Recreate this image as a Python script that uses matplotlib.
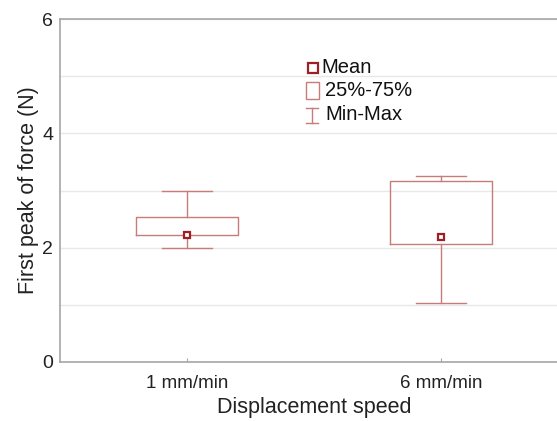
import matplotlib
matplotlib.use("Agg")
import matplotlib.pyplot as plt
from matplotlib.patches import Rectangle
from matplotlib.lines import Line2D

plt.rcParams['font.family'] = ['Liberation Sans', 'DejaVu Sans']

categories = ["1 mm/min", "6 mm/min"]
means = [2.23, 2.18]
q1 = [2.22, 2.06]
q3 = [2.53, 3.16]
mins = [2.00, 1.03]
maxs = [3.00, 3.26]
yticks = [0, 2, 4, 6]

box_col = "#c87b7b"
mean_col = "#9e1f24"
spine_col = "#a6a6a6"

fig = plt.figure(figsize=(5.57, 4.21), dpi=100)
ax = fig.add_axes([60/557, 1 - 362/421, 508/557, 343/421])

stats = []
for i, c in enumerate(categories):
    stats.append(dict(label=c, mean=means[i], med=means[i], q1=q1[i], q3=q3[i],
                      whislo=mins[i], whishi=maxs[i], fliers=[]))
pos = list(range(1, len(categories) + 1))
ax.bxp(stats, positions=pos, widths=0.4, showmeans=False, showfliers=False,
       boxprops=dict(color=box_col, lw=1.0),
       whiskerprops=dict(color=box_col, lw=1.0),
       capprops=dict(color=box_col, lw=1.0),
       medianprops=dict(visible=False), capwidths=0.2)
ax.plot(pos, means, ls='none', marker='s', ms=5, mfc='white', mec=mean_col, mew=1.6, zorder=5)

ax.set_xlim(0.5, 2.5)
ax.set_ylim(0, 6)
ax.set_yticks(yticks)
ax.set_yticks([1, 3, 5], minor=True)
ax.set_xticks(pos)
ax.set_xticklabels(categories)
ax.grid(axis='y', which='both', color='#e8e8e8', lw=1.0)
ax.set_axisbelow(True)
ax.tick_params(axis='y', which='both', length=0, labelsize=14, pad=5, colors='#222222')
ax.tick_params(axis='x', length=3, direction='in', color=spine_col, labelsize=13.5, pad=9, labelcolor='#222222')
for s in ['left', 'top', 'bottom']:
    ax.spines[s].set_color(spine_col)
    ax.spines[s].set_linewidth(1.2)
ax.spines['right'].set_visible(False)
ax.set_ylabel("First peak of force (N)", fontsize=15.5, color='#222222', labelpad=2)
ax.set_xlabel("Displacement speed", fontsize=15.5, color='#222222', labelpad=4)

# legend drawn manually (axes fraction coordinates)
def fx(px):
    return (px - 60) / 508
def fy(py):
    return (362 - py) / 343
tr = ax.transAxes
ax.add_line(Line2D([fx(313)], [fy(68)], transform=tr, marker='s', ms=6.5, mfc='white',
                   mec=mean_col, mew=1.6, clip_on=False))
ax.text(fx(321), fy(68), "Mean", transform=tr, fontsize=14.5, va='center', ha='left', color='#111111')
ax.add_patch(Rectangle((fx(306), fy(99)), fx(319) - fx(306), fy(82) - fy(99), transform=tr,
                       fill=False, ec=box_col, lw=1.0, clip_on=False))
ax.text(fx(325), fy(91), "25%-75%", transform=tr, fontsize=14.5, va='center', ha='left', color='#111111')
ax.add_line(Line2D([fx(312), fx(312)], [fy(108), fy(123)], transform=tr, color=box_col, lw=1.0, clip_on=False))
ax.add_line(Line2D([fx(306), fx(318)], [fy(108), fy(108)], transform=tr, color=box_col, lw=1.0, clip_on=False))
ax.add_line(Line2D([fx(306), fx(318)], [fy(123), fy(123)], transform=tr, color=box_col, lw=1.0, clip_on=False))
ax.text(fx(325), fy(115), "Min-Max", transform=tr, fontsize=14.5, va='center', ha='left', color='#111111')

fig.savefig("out.png", dpi=100)
